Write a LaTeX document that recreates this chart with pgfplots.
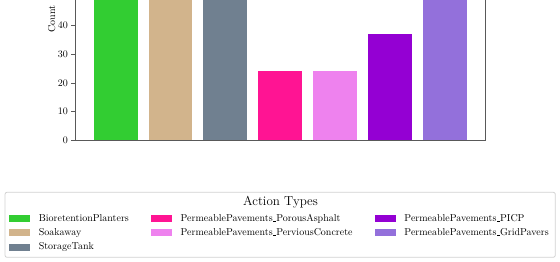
\documentclass[border=0pt]{standalone}
\usepackage{pgfplots}
\pgfplotsset{compat=1.18}
\definecolor{cLime}{RGB}{50,205,50}
\definecolor{cTan}{RGB}{210,180,140}
\definecolor{cSlate}{RGB}{112,128,144}
\definecolor{cDeepPink}{RGB}{255,20,147}
\definecolor{cViolet}{RGB}{238,130,238}
\definecolor{cDarkViolet}{RGB}{148,0,211}
\definecolor{cMedPurple}{RGB}{147,112,219}
\newcommand\us{\leavevmode\kern.06em\vbox{\hrule width .3em}}
\pgfplotsset{mylegend/.style={legend image code/.code={\fill[##1] (0pt,-3.5pt) rectangle (21pt,3.5pt);}}}
\begin{document}
\begin{tikzpicture}[x=1pt,y=1pt]
\begin{axis}[
  at={(75pt,121.7pt)}, anchor=south west,
  scale only axis, width=410.7pt, height=242.6pt,
  xmin=-0.74, xmax=6.74, ymin=0, ymax=84.4,
  xtick=\empty, ytick={0,10,...,80},
  ytick pos=left, tick align=outside, major tick length=3.5pt,
  axis line style={black!65, line width=0.6pt},
  tick style={black!65, line width=0.6pt},
  ylabel={Count},
  ylabel style={at={(axis description cs:-0.0567,0.5)}, anchor=center},
  tick label style={font=\fontsize{10}{12}\selectfont},
  label style={font=\fontsize{10}{12}\selectfont},
  legend columns=3,
  legend cell align=left,
  legend style={at={(-0.1607,-0.2929)}, anchor=north west, draw=none, fill=none,
    inner sep=0pt, outer sep=0pt, row sep=0pt,
    font=\fontsize{10}{12}\selectfont,
    nodes={inner sep=0pt, minimum height=14.3pt},
    /tikz/every odd column/.append style={column sep=8.8pt},
    /tikz/every even column/.append style={column sep=22pt}},
]
\addplot[ybar, bar width=0.8, bar shift=0pt, fill=cLime, draw=none, forget plot] coordinates {(0,80)};
\addplot[ybar, bar width=0.8, bar shift=0pt, fill=cTan, draw=none, forget plot] coordinates {(1,68)};
\addplot[ybar, bar width=0.8, bar shift=0pt, fill=cSlate, draw=none, forget plot] coordinates {(2,73)};
\addplot[ybar, bar width=0.8, bar shift=0pt, fill=cDeepPink, draw=none, forget plot] coordinates {(3,24)};
\addplot[ybar, bar width=0.8, bar shift=0pt, fill=cViolet, draw=none, forget plot] coordinates {(4,24)};
\addplot[ybar, bar width=0.8, bar shift=0pt, fill=cDarkViolet, draw=none, forget plot] coordinates {(5,37)};
\addplot[ybar, bar width=0.8, bar shift=0pt, fill=cMedPurple, draw=none, forget plot] coordinates {(6,57)};
\addlegendimage{mylegend, fill=cLime, draw=none}
\addlegendentry{BioretentionPlanters}
\addlegendimage{mylegend, fill=cDeepPink, draw=none}
\addlegendentry{PermeablePavements\us PorousAsphalt}
\addlegendimage{mylegend, fill=cDarkViolet, draw=none}
\addlegendentry{PermeablePavements\us PICP}
\addlegendimage{mylegend, fill=cTan, draw=none}
\addlegendentry{Soakaway}
\addlegendimage{mylegend, fill=cViolet, draw=none}
\addlegendentry{PermeablePavements\us PerviousConcrete}
\addlegendimage{mylegend, fill=cMedPurple, draw=none}
\addlegendentry{PermeablePavements\us GridPavers}
\addlegendimage{mylegend, fill=cSlate, draw=none}
\addlegendentry{StorageTank}
\end{axis}
\draw[rounded corners=2pt, draw=black!18, line width=0.8pt] (5,4.7) rectangle (555.3,69.7);
\node[anchor=base, inner sep=0pt, font=\fontsize{13}{15}\selectfont] at (280.5,56.3) {Action Types};
\pgfresetboundingbox
\useasboundingbox (0,0) rectangle (560,262);
\end{tikzpicture}
\end{document}
